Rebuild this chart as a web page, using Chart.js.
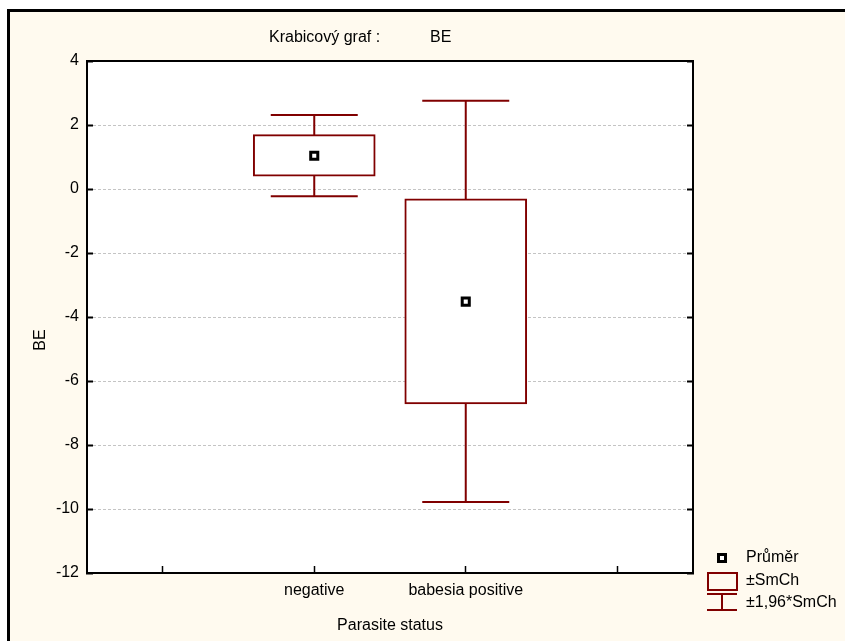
<!DOCTYPE html>
<html>
<head>
<meta charset="utf-8">
<script src="https://cdn.jsdelivr.net/npm/chart.js@4/dist/chart.umd.min.js"></script>
<style>
  html, body { margin: 0; padding: 0; background: #ffffff; width: 845px; height: 641px; overflow: hidden; }
  #frame { position: absolute; left: 7px; top: 9px; width: 845px; height: 641px;
           border-left: 3px solid #000; border-top: 3px solid #000; background: #FFFAEF; }
  #c { position: absolute; left: 0; top: 0; }
</style>
</head>
<body>
<div id="frame"></div>
<canvas id="c" width="845" height="641"></canvas>
<script>
// ---- data ----
const categories = ['negative', 'babesia positive'];
const means      = [1.04, -3.52];
const seLow      = [0.40, -6.72];   // mean - SmCh
const seHigh     = [1.70, -0.31];   // mean + SmCh
const ciLow      = [-0.23, -9.78];  // mean - 1.96*SmCh
const ciHigh     = [2.31, 2.76];    // mean + 1.96*SmCh
const xTickLabels = ['', 'negative', 'babesia positive', ''];
const yTicks = [-12, -10, -8, -6, -4, -2, 0, 2, 4];
const titleMain = 'Krabicový graf :';
const titleVar = 'BE';
const xTitle = 'Parasite status';
const yTitle = 'BE';
const legendLabels = ['Průměr', '±SmCh', '±1,96*SmCh'];

const RED = '#800000';
const FONT = '"Liberation Sans", Arial, sans-serif';

const whiskerSets = categories.map((c, i) => ({
  type: 'line',
  label: legendLabels[2],
  data: [{x: c, y: ciLow[i]}, {x: c, y: ciHigh[i]}],
  borderColor: RED,
  borderWidth: 2,
  pointStyle: 'line',
  pointRadius: 43.5,
  pointBorderWidth: 2,
  pointBorderColor: RED,
  pointBackgroundColor: RED,
  order: 2
}));

const framePlugin = {
  id: 'framePlugin',
  beforeDraw(chart) {
    const {ctx, chartArea: a} = chart;
    ctx.save();
    ctx.fillStyle = '#ffffff';
    ctx.fillRect(a.left, a.top, a.right - a.left, a.bottom - a.top);
    ctx.restore();
  },
  afterDraw(chart) {
    const {ctx, chartArea: a} = chart;
    ctx.save();
    ctx.strokeStyle = '#000';
    ctx.lineWidth = 2;
    ctx.strokeRect(a.left, a.top, a.right - a.left, a.bottom - a.top);

    ctx.fillStyle = '#000';
    ctx.font = '16px ' + FONT;
    ctx.textBaseline = 'middle';
    ctx.textAlign = 'left';
    ctx.fillText(titleMain, 269, 38);
    ctx.fillText(titleVar, 430, 38);

    // legend
    ctx.fillText(legendLabels[0], 746, 558);
    ctx.fillText(legendLabels[1], 746, 581);
    ctx.fillText(legendLabels[2], 746, 603);
    // mean icon
    ctx.fillStyle = '#fff';
    ctx.fillRect(718.5, 554.5, 7, 7);
    ctx.strokeStyle = '#000';
    ctx.lineWidth = 3;
    ctx.strokeRect(718.5, 554.5, 7, 7);
    // box icon
    ctx.strokeStyle = RED;
    ctx.lineWidth = 2;
    ctx.strokeRect(708, 573, 29, 17);
    // whisker icon
    ctx.beginPath();
    ctx.moveTo(722, 594); ctx.lineTo(722, 610);
    ctx.moveTo(707, 594); ctx.lineTo(737, 594);
    ctx.moveTo(707, 610); ctx.lineTo(737, 610);
    ctx.stroke();

    // y title
    ctx.fillStyle = '#000';
    ctx.translate(41, 340);
    ctx.rotate(-Math.PI / 2);
    ctx.textAlign = 'center';
    ctx.fillText(yTitle, 0, 0);
    ctx.restore();
  }
};

new Chart(document.getElementById('c'), {
  type: 'bar',
  data: {
    labels: xTickLabels,
    datasets: [
      {
        type: 'line',
        label: legendLabels[0],
        data: categories.map((c, i) => ({x: c, y: means[i]})),
        showLine: false,
        pointStyle: 'rect',
        pointRadius: 5,
        pointBorderWidth: 3,
        pointBorderColor: '#000',
        pointBackgroundColor: '#fff',
        order: 0
      },
      {
        type: 'bar',
        label: legendLabels[1],
        data: categories.map((c, i) => ({x: c, y: [seLow[i], seHigh[i]]})),
        backgroundColor: '#ffffff',
        borderColor: RED,
        borderWidth: 2,
        borderSkipped: false,
        barThickness: 122,
        order: 1
      },
      ...whiskerSets
    ]
  },
  options: {
    responsive: false,
    devicePixelRatio: 1,
    animation: false,
    events: [],
    layout: { padding: { top: 61, right: 152, left: 0, bottom: 0 } },
    plugins: { legend: { display: false }, title: { display: false }, tooltip: { enabled: false } },
    scales: {
      x: {
        type: 'category',
        offset: true,
        grid: { display: true, offset: false, drawOnChartArea: false, drawTicks: true,
                tickLength: -7, tickColor: '#000', tickWidth: 1.5 },
        border: { display: true, color: '#000', width: 2 },
        ticks: { padding: 15, color: '#000', font: { size: 16, family: FONT }, autoSkip: false, maxRotation: 0 },
        title: { display: true, text: xTitle, color: '#000', font: { size: 16, family: FONT },
                 padding: { top: 0, bottom: 6 } },
        afterFit: s => { s.height = 68; }
      },
      y: {
        type: 'linear',
        position: 'left',
        min: -12, max: 4,
        afterBuildTicks: s => { s.ticks = yTicks.map(v => ({value: v})); },
        grid: { color: '#c4c4c4', lineWidth: 1, drawTicks: true, tickLength: -6,
                tickColor: '#000', tickWidth: 2, tickBorderDash: [] },
        border: { display: true, color: '#000', width: 2, dash: [3, 2] },
        ticks: { padding: 14, color: '#000', font: { size: 16, family: FONT } },
        afterFit: s => { s.width = 87; }
      },
      y2: {
        type: 'linear',
        position: 'right',
        min: -12, max: 4,
        afterBuildTicks: s => { s.ticks = yTicks.map(v => ({value: v})); },
        grid: { drawOnChartArea: false, drawTicks: true, tickLength: -6, tickColor: '#000', tickWidth: 2 },
        border: { display: true, color: '#000', width: 2 },
        ticks: { display: false },
        afterFit: s => { s.width = 0; }
      }
    }
  },
  plugins: [framePlugin]
});
</script>
</body>
</html>
